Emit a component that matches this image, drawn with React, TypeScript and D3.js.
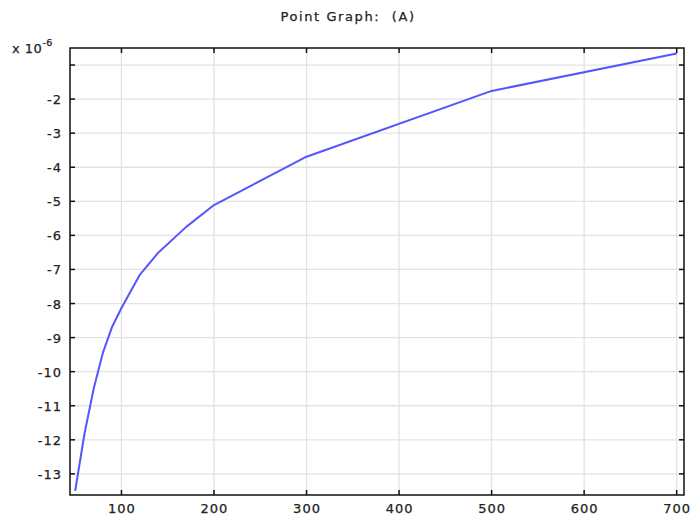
import React from "react";
import * as d3 from "d3";

const xValues = [50, 60, 70, 80, 90, 100, 120, 140, 170, 200, 300, 500, 700];
const yValues = [-13.5, -11.83, -10.5, -9.44, -8.68, -8.13, -7.15, -6.5, -5.75, -5.11, -3.69, -1.76, -0.66];
const xTicks = [100, 200, 300, 400, 500, 600, 700];
const yTicks = [-13, -12, -11, -10, -9, -8, -7, -6, -5, -4, -3, -2, -1];
const yLabelTicks = [-13, -12, -11, -10, -9, -8, -7, -6, -5, -4, -3, -2];
const title = "Point Graph:  (A)";

const W = 696, H = 523;
const L = 70, R = 684, T = 48, B = 495;
const FONT = "DejaVu Sans, sans-serif";
const TXT = { fontFamily: FONT, fontSize: 13, fill: "#222", stroke: "#222", strokeWidth: 0.25, letterSpacing: 1 } as const;

export default function App() {
  const x = d3.scaleLinear().domain([44.4, 707.9]).range([L, R]);
  const y = d3.scaleLinear().domain([-13.62, -0.5]).range([B, T]);
  const line = d3.line<number>().x((_, i) => x(xValues[i])).y((d) => y(d));
  const tl = 5;
  return (
    <svg width={W} height={H} style={{ position: "absolute", left: 0, top: 0, background: "#fff" }}>
      <rect x={0} y={0} width={W} height={H} fill="#fff" />
      <text x={W / 2} y={21} textAnchor="middle" {...TXT} letterSpacing={1.6} style={{ whiteSpace: "pre" }} xmlSpace="preserve">{title}</text>
      {xTicks.map((t) => (
        <line key={"gx" + t} x1={x(t)} x2={x(t)} y1={T} y2={B} stroke="#e3e3e3" strokeWidth={1.3} />
      ))}
      {yTicks.map((t) => (
        <line key={"gy" + t} x1={L} x2={R} y1={y(t)} y2={y(t)} stroke="#e3e3e3" strokeWidth={1.3} />
      ))}
      <path d={line(yValues) || ""} fill="none" stroke="#5555ff" strokeWidth={2} strokeLinejoin="round" />
      <rect x={L} y={T} width={R - L} height={B - T} fill="none" stroke="#111" strokeWidth={1.5} />
      {xTicks.map((t) => (
        <g key={"tx" + t}>
          <line x1={x(t)} x2={x(t)} y1={B} y2={B - tl} stroke="#111" strokeWidth={1.5} />
          <line x1={x(t)} x2={x(t)} y1={T} y2={T + tl} stroke="#111" strokeWidth={1.5} />
          <text x={x(t) + 0.5} y={513} textAnchor="middle" {...TXT}>{t}</text>
        </g>
      ))}
      {yTicks.map((t) => (
        <g key={"ty" + t}>
          <line x1={L} x2={L + tl} y1={y(t)} y2={y(t)} stroke="#111" strokeWidth={1.5} />
          <line x1={R} x2={R - tl} y1={y(t)} y2={y(t)} stroke="#111" strokeWidth={1.5} />
        </g>
      ))}
      {yLabelTicks.map((t) => (
        <text key={"ly" + t} x={62} y={y(t) + 5} textAnchor="end" {...TXT}>{t}</text>
      ))}
      <text x={12} y={53} {...TXT} letterSpacing={0.5}>
        x 10<tspan dy={-7} fontSize={9.5}>-6</tspan>
      </text>
    </svg>
  );
}
